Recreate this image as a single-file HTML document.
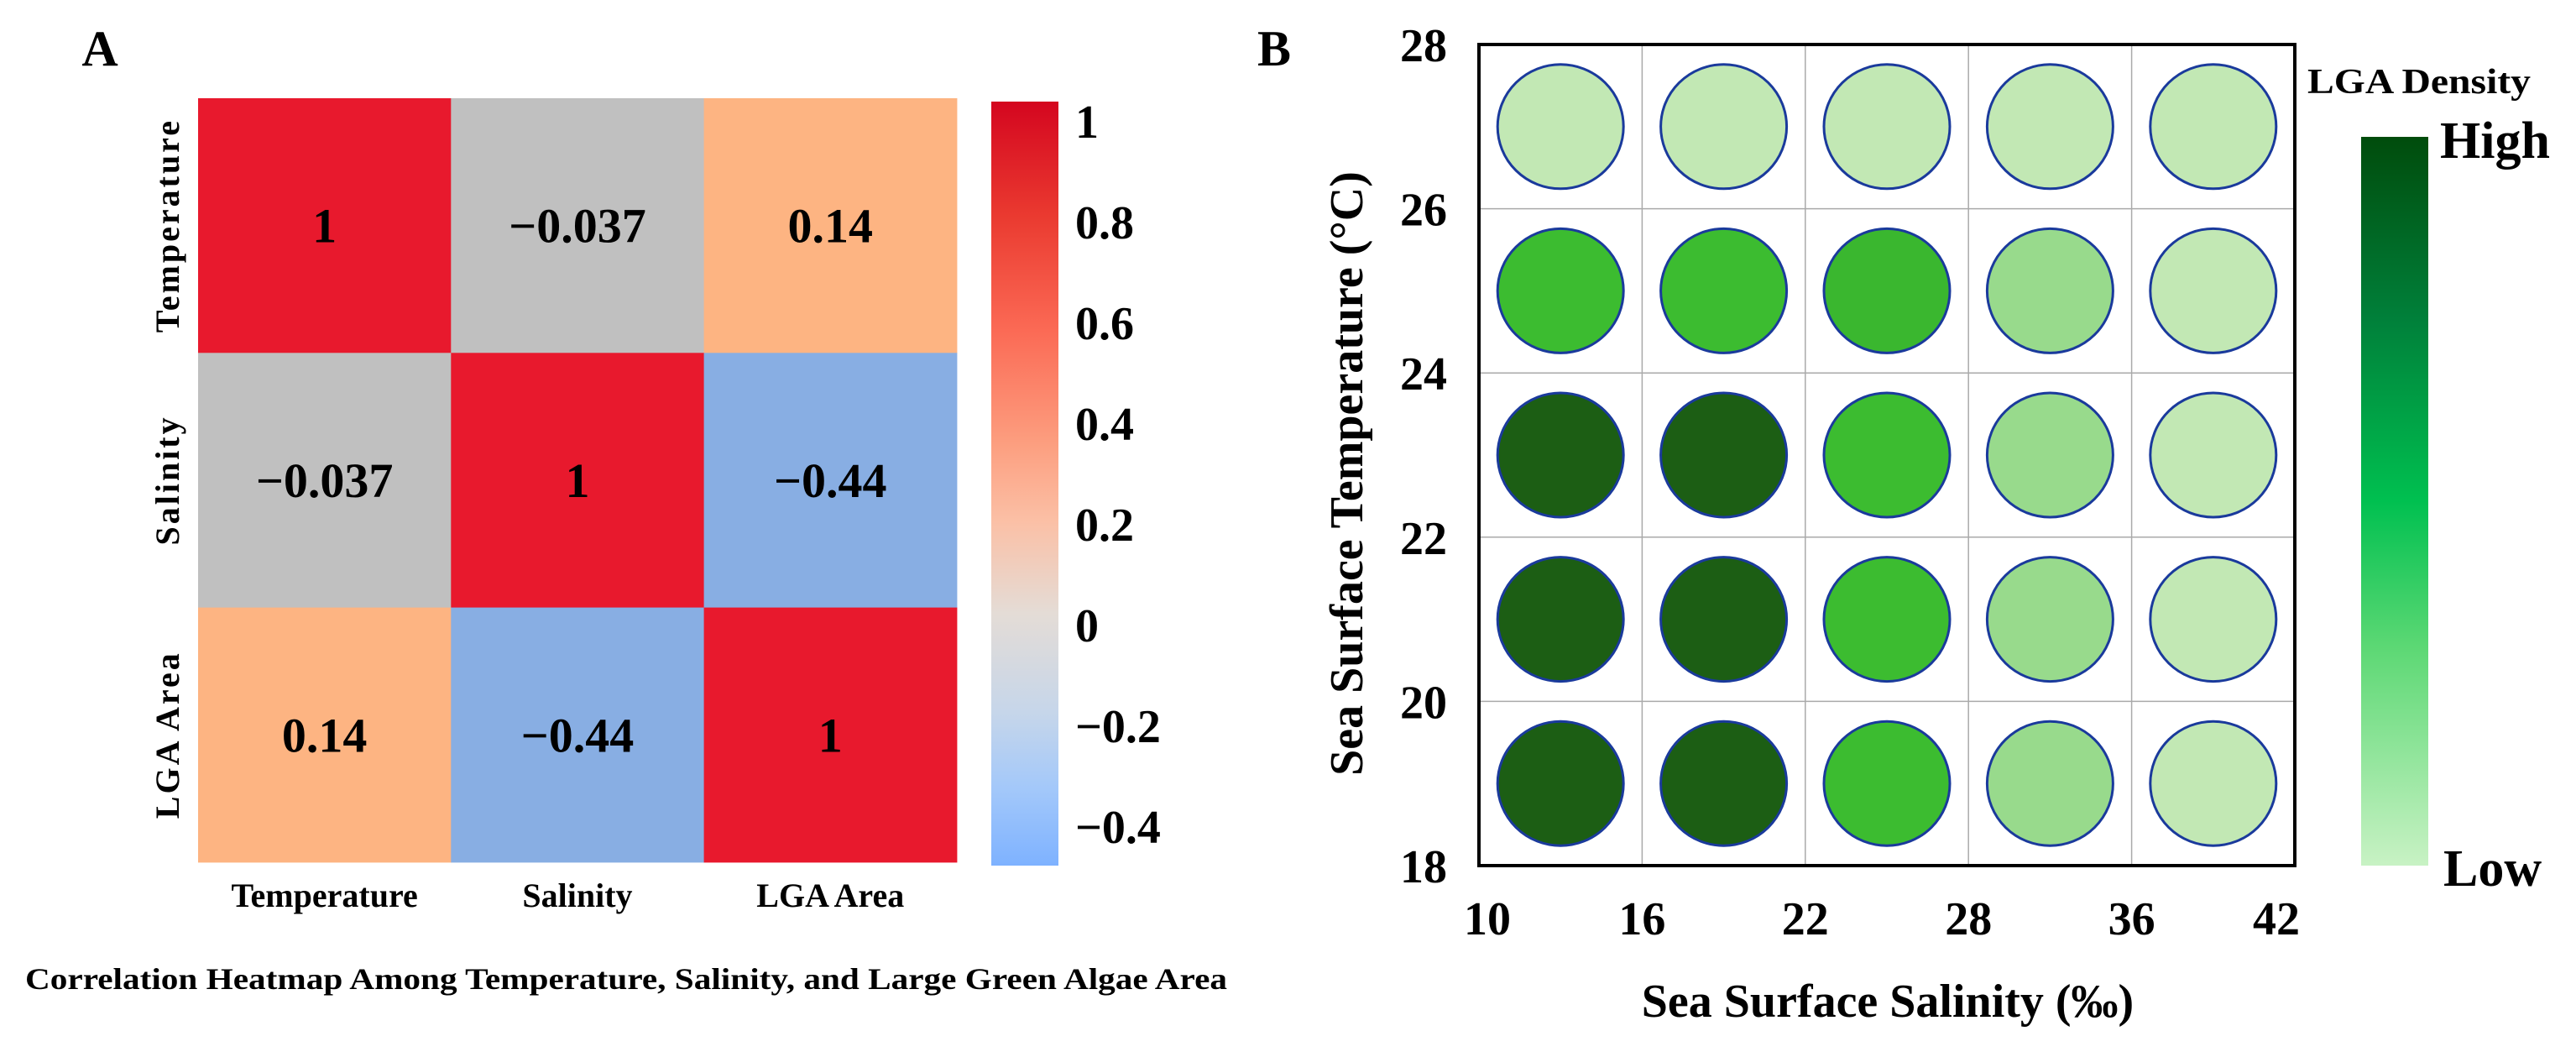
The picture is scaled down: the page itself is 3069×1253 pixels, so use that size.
<!DOCTYPE html>
<html><head><meta charset="utf-8"><style>
html,body{margin:0;padding:0;background:#fff;}
svg{display:block;font-family:"Liberation Serif",serif;font-weight:bold;}
</style></head><body>
<svg id="fig" width="3069" height="1253" viewBox="0 0 3069 1253" xmlns="http://www.w3.org/2000/svg">
<defs>
<linearGradient id="cbA" x1="0" y1="0" x2="0" y2="1">
<stop offset="0" stop-color="#d4061f"/><stop offset="0.15" stop-color="#ea3a30"/><stop offset="0.3" stop-color="#fb6a55"/>
<stop offset="0.45" stop-color="#fc9f80"/><stop offset="0.55" stop-color="#fbc0a6"/><stop offset="0.67" stop-color="#e4dcd6"/>
<stop offset="0.8" stop-color="#c6d6ea"/><stop offset="0.9" stop-color="#a3c8fa"/><stop offset="1" stop-color="#7eb2ff"/>
</linearGradient>
<linearGradient id="cbB" x1="0" y1="0" x2="0" y2="1">
<stop offset="0" stop-color="#004c0c"/><stop offset="0.25" stop-color="#00803a"/><stop offset="0.5" stop-color="#00c050"/>
<stop offset="0.7" stop-color="#5cd874"/><stop offset="1" stop-color="#c8f2c4"/>
</linearGradient>
</defs>
<g id="panelA"></g>
<g id="panelB"></g>
</svg>
<script>
// ---- Panel A data ----
const vars = ["Temperature", "Salinity", "LGA Area"];
const corrRow0 = [1, -0.037, 0.14];
const corrRow1 = [-0.037, 1, -0.44];
const corrRow2 = [0.14, -0.44, 1];
const corrLabels0 = ["1", "\u22120.037", "0.14"];
const corrLabels1 = ["\u22120.037", "1", "\u22120.44"];
const corrLabels2 = ["0.14", "\u22120.44", "1"];
const cbTicksA = [1, 0.8, 0.6, 0.4, 0.2, 0, -0.2, -0.4];
const cbTickLabelsA = ["1", "0.8", "0.6", "0.4", "0.2", "0", "\u22120.2", "\u22120.4"];
// ---- Panel B data ----
const salinityTicks = ["10", "16", "22", "28", "36", "42"];
const tempTicks = [28, 26, 24, 22, 20, 18];
const tempRows = [27, 25, 23, 21, 19];
const density27 = [0, 0, 0, 0, 0];
const density25 = [0.6, 0.6, 0.62, 0.3, 0];
const density23 = [1, 1, 0.6, 0.3, 0];
const density21 = [1, 1, 0.6, 0.3, 0];
const density19 = [1, 1, 0.6, 0.3, 0];

const NS = "http://www.w3.org/2000/svg";
function mk(parent, tag, attrs, text) {
  const e = document.createElementNS(NS, tag);
  for (const k in attrs) e.setAttribute(k, attrs[k]);
  if (text !== undefined) e.textContent = text;
  parent.appendChild(e);
  return e;
}
function lerpColor(stops, v) {
  for (let i = 0; i < stops.length - 1; i++) {
    const [a, ca] = stops[i], [b, cb] = stops[i + 1];
    if (v >= a && v <= b) {
      const t = (v - a) / (b - a);
      const p = s => [1, 3, 5].map(j => parseInt(s.substr(j, 2), 16));
      const A = p(ca), B = p(cb);
      return "rgb(" + A.map((x, j) => Math.round(x + (B[j] - x) * t)).join(",") + ")";
    }
  }
  return v < stops[0][0] ? stops[0][1] : stops[stops.length - 1][1];
}

// ===== Panel A =====
const A = document.getElementById("panelA");
const aLeft = 236, aTop = 117, cw = 301.3, ch = 303.3;
const heatStops = [[-0.5, "#80aaf0"], [-0.44, "#88aee3"], [-0.037, "#c0c0c0"], [0.14, "#fdb482"], [0.5, "#f6704e"], [1, "#e8192d"]];
const colX = i => aLeft + i * cw;
const rowY = i => aTop + i * ch;
const corrRows = [corrRow0, corrRow1, corrRow2];
const corrLabelRows = [corrLabels0, corrLabels1, corrLabels2];
let t = mk(A, "text", {x: 119, y: 78, "font-size": 60, "text-anchor": "middle"}, "A");


corrRows.forEach((row, r) => {
  row.forEach((v, c) => {
    const rc = mk(A, "rect", {x: colX(c), y: rowY(r), width: cw + 0.5, height: ch + 0.5, fill: lerpColor(heatStops, v)});
    
    
    const tx = mk(A, "text", {x: colX(c) + cw / 2, y: rowY(r) + ch / 2 + 20, "font-size": 58, "text-anchor": "middle"}, corrLabelRows[r][c]);
    
    
  });
});
vars.forEach((name, i) => {
  const cx = colX(i) + cw / 2, cy = rowY(i) + ch / 2;
  const xl = mk(A, "text", {x: cx, y: 1080, "font-size": 40, "text-anchor": "middle"}, name);
  
  
  const yl = mk(A, "text", {x: 0, y: 0, "font-size": 40, "text-anchor": "middle", "letter-spacing": 3, transform: "translate(213," + cy + ") rotate(-90)"}, name);
  
  
});
// colorbar A
const cbY = v => 744 - 600 * v;
const cbr = mk(A, "rect", {x: 1181, y: 121, width: 80, height: 910, fill: "url(#cbA)"});


cbTicksA.forEach((v, i) => {
  const tl = mk(A, "text", {x: 1281, y: cbY(v) + 20, "font-size": 56}, cbTickLabelsA[i]);
  
  
});
t = mk(A, "text", {x: 30, y: 1178, "font-size": 36, textLength: 1432, lengthAdjust: "spacingAndGlyphs"}, "Correlation Heatmap Among Temperature, Salinity, and Large Green Algae Area");



// ===== Panel B =====
const B = document.getElementById("panelB");
const bL = 1762, bR = 2734, bT = 53, bB = 1031;
const nCols = salinityTicks.length - 1;
const xIdx = i => bL + (bR - bL) * i / nCols;
const yT = v => bB - (bB - bT) * (v - 18) / 10;
const greenStops = [[0, "#c2e8b4"], [0.3, "#98da8c"], [0.6, "#3cbc30"], [1, "#1c5e14"]];
t = mk(B, "text", {x: 1518, y: 78, "font-size": 60, "text-anchor": "middle"}, "B");


for (let i = 1; i < nCols; i++) {
  const g = mk(B, "line", {x1: xIdx(i), x2: xIdx(i), y1: bT, y2: bB, stroke: "#aaa", "stroke-width": 1.5});
  
  
}
tempTicks.forEach(v => {
  if (v > 18 && v < 28) {
    const g = mk(B, "line", {x1: bL, x2: bR, y1: yT(v), y2: yT(v), stroke: "#aaa", "stroke-width": 1.5});
    
    
  }
  const tl = mk(B, "text", {x: 1724, y: yT(v) + 20, "font-size": 56, "text-anchor": "end"}, String(v));
  
  
});
salinityTicks.forEach((s, i) => {
  const tl = mk(B, "text", {x: xIdx(i) + (i === 0 ? 10 : i === nCols ? -22 : 0), y: 1113, "font-size": 56, "text-anchor": "middle"}, s);
  
  
});
const densRows = [density27, density25, density23, density21, density19];
densRows.forEach((row, r) => {
  row.forEach((d, c) => {
    const cc = mk(B, "ellipse", {cx: (xIdx(c) + xIdx(c + 1)) / 2, cy: yT(tempRows[r]), rx: 75, ry: 74, fill: lerpColor(greenStops, d), stroke: "#1a3a9c", "stroke-width": 3});
    
    
  });
});
const frame = mk(B, "rect", {x: bL, y: bT, width: bR - bL, height: bB - bT, fill: "none", stroke: "#000", "stroke-width": 4});


t = mk(B, "text", {x: 2249, y: 1211, "font-size": 56, "text-anchor": "middle"}, "Sea Surface Salinity (\u2030)");


t = mk(B, "text", {x: 0, y: 0, "font-size": 56, "text-anchor": "middle", transform: "translate(1623,564) rotate(-90)"}, "Sea Surface Temperature (\u00b0C)");


// legend colorbar
t = mk(B, "text", {x: 2749, y: 111, "font-size": 42, textLength: 266, lengthAdjust: "spacingAndGlyphs"}, "LGA Density");


const cb2 = mk(B, "rect", {x: 2813, y: 163, width: 80, height: 868, fill: "url(#cbB)"});


t = mk(B, "text", {x: 2907, y: 188, "font-size": 62}, "High");


t = mk(B, "text", {x: 2911, y: 1055, "font-size": 62}, "Low");


</script>
</body></html>
